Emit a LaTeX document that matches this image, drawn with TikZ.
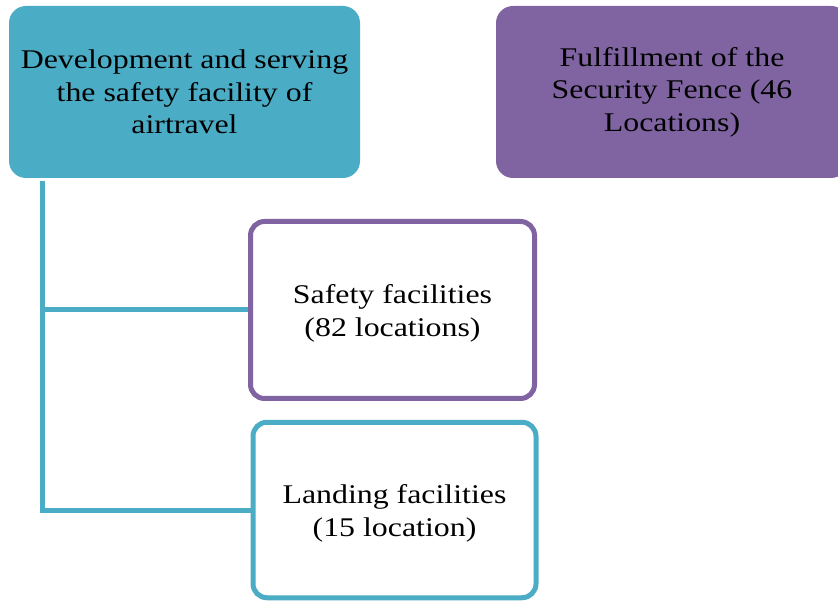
\documentclass[tikz,border=0pt]{standalone}
\usepackage{fontspec}
\setmainfont{Liberation Serif}[FakeStretch=1.18]
\definecolor{tealc}{HTML}{4BACC6}
\definecolor{purpc}{HTML}{8064A2}
\newcommand{\topstrut}{\rule{0pt}{26pt}}
\begin{document}
\begin{tikzpicture}[x=1pt,y=-1pt,
  every node/.style={font=\fontsize{27}{32.4}\selectfont, align=center, text=black, inner sep=0pt},
  filledbox/.style={rounded corners=17pt, minimum width=#1},
  outbox/.style={draw, line width=5pt, fill=white, rounded corners=14pt},
  conn/.style={draw=tealc, line width=5pt}]
\useasboundingbox (0,0) rectangle (838,601);
\clip (0,0) rectangle (838,601);
\node[filledbox=351pt, fill=tealc, minimum height=172pt] (dev) at (184.5,92)
  {Development and serving\\the safety facility of\\airtravel};
\node[filledbox=352pt, fill=purpc, minimum height=172pt] (fence) at (672,92)
  {Fulfillment of the\\Security Fence (46\\Locations)};
\node[outbox, draw=purpc, minimum width=284pt, minimum height=177pt] (safe) at (392.5,310)
  {\topstrut Safety facilities\\(82 locations)};
\node[outbox, draw=tealc, minimum width=283pt, minimum height=175.5pt] (land) at (394.5,510)
  {\topstrut Landing facilities\\(15 location)};
\coordinate (c0) at (42.5,181);
\draw[conn] (c0) |- (land.west);
\draw[conn] (c0 |- safe.west) -- (safe.west);
\end{tikzpicture}
\end{document}
